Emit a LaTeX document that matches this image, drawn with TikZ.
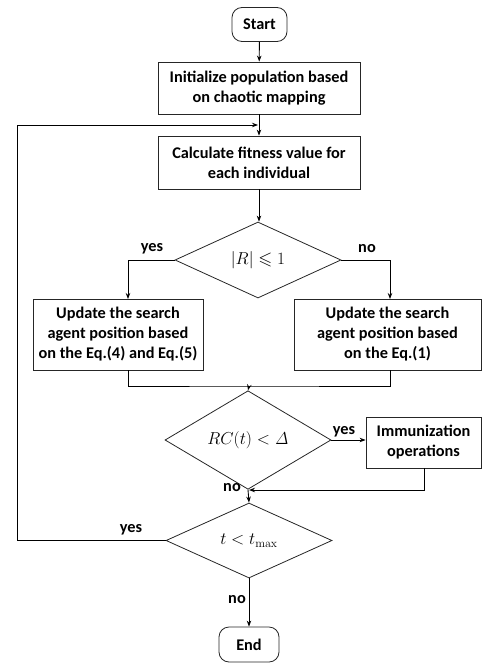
\documentclass[tikz,border=0pt]{standalone}
\usepackage{amssymb}
\usepackage[no-math]{fontspec}
\setmainfont{Carlito}
\usetikzlibrary{shapes.geometric,arrows.meta}
\begin{document}
\begin{tikzpicture}[x=1pt,y=-1pt,
  every node/.style={font=\bfseries\fontsize{16.3}{20}\selectfont},
  box/.style={draw=black!85, line width=0.8pt, align=center, inner sep=0pt},
  term/.style={box, rounded corners=10pt},
  decide/.style={draw=black!85, line width=0.8pt, diamond, inner sep=0pt,
    font=\fontsize{18}{22}\selectfont},
  lbl/.style={inner sep=0pt},
  flow/.style={line width=0.9pt, -{Stealth[length=6pt,width=4.5pt]}},
  plain/.style={line width=0.9pt}]
\useasboundingbox (0,0) rectangle (482,664);

% terminals and process boxes
\node[term, minimum width=55pt, minimum height=34pt] (start) at (259.5,24.5) {Start};
\node[box, minimum width=202pt, minimum height=52pt] (init) at (259,88) {Initialize population based\\on chaotic mapping};
\node[box, minimum width=202pt, minimum height=53pt] (calc) at (259,162.5) {Calculate fitness value for\\each individual};
\node[decide, minimum width=166pt, minimum height=76pt] (d1) at (258,260) {$|R|\leqslant 1$};
\node[box, minimum width=170pt, minimum height=71pt] (upl) at (118,334.5) {Update the search\\agent position based\\on the Eq.(4) and Eq.(5)};
\node[box, minimum width=187pt, minimum height=71pt] (upr) at (387.5,334.5) {Update the search\\agent position based\\on the Eq.(1)};
\node[decide, minimum width=166pt, minimum height=75pt] (d2) at (248,440) {$RC(t)<\mathit{\Delta}$};
\node[box, minimum width=115pt, minimum height=51pt] (imm) at (423.5,442.5) {Immunization\\operations};
\node[decide, minimum width=166pt, minimum height=75pt] (d3) at (249,540.5) {$t<t_{\max}$};
\node[term, minimum width=60pt, minimum height=35pt] (end) at (249,644.5) {End};

% helper points on the routed connectors
\coordinate (loopL) at (17,125);
\coordinate (merge) at (249,386);
\coordinate (join) at (249,490);

% connectors
\draw[flow] (start) -- (init);
\draw[flow] (init) -- (calc);
\draw[flow] (calc.south) -- (calc.south |- d1.north);
\draw[flow] (d1.west) -| (128,299);
\draw[flow] (d1.east) -| (390,299);
\draw[plain] (128,370) |- (merge) -| (390,370);
\draw[flow] (merge) -- (d2.north);
\draw[flow] (d2.east) -- (imm.west |- d2.east);
\draw[flow] (424,468) |- (join);
\draw[flow] (d2.south) -- (d3.north);
\draw[flow] (d3.west) -| (loopL) -- (258,125);
\draw[flow] (d3.south) -- (end.north);

% branch labels
\node[lbl] at (152,249) {yes};
\node[lbl] at (367,249) {no};
\node[lbl] at (344,432) {yes};
\node[lbl] at (232,488) {no};
\node[lbl] at (131,530) {yes};
\node[lbl] at (237,600) {no};
\end{tikzpicture}
\end{document}
